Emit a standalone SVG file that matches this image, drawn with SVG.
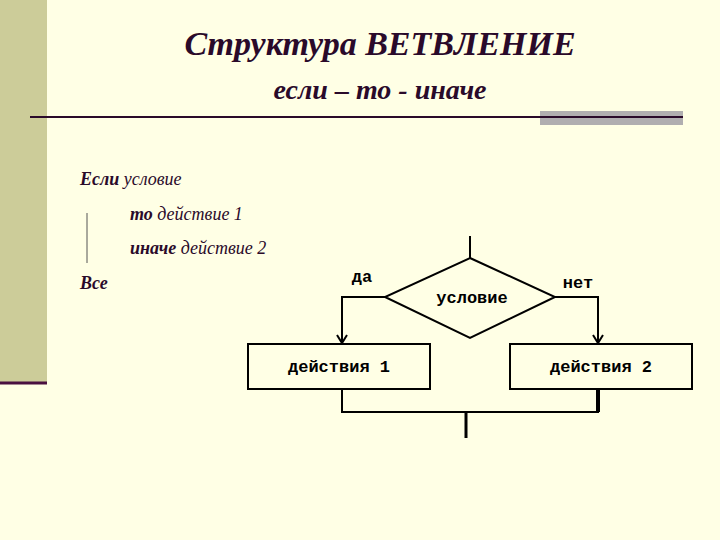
<svg xmlns="http://www.w3.org/2000/svg" width="720" height="540" viewBox="0 0 720 540">
<style>
.t{font-family:"Liberation Serif",serif;font-style:italic;fill:#2a0a2a}
.m{font-family:"Liberation Mono",monospace;font-size:17px;fill:#000}
.ln{stroke:#000;stroke-width:2;fill:none}
</style>
<defs><marker id="v" markerWidth="12" markerHeight="12" refX="9" refY="6" orient="auto" markerUnits="userSpaceOnUse"><path d="M1,1 L9,6 L1,11" fill="none" stroke="#000" stroke-width="2"/></marker></defs>
<rect width="720" height="540" fill="#FFFFE5"/>
<rect x="0" y="0" width="47" height="382" fill="#CCCC99"/>
<line x1="0" y1="383" x2="47" y2="383" stroke="#4a1040" stroke-width="3"/>
<rect x="540" y="111" width="143" height="14" fill="#B0AEB0"/>
<line x1="30" y1="117" x2="683" y2="117" stroke="#2a0a2a" stroke-width="2"/>
<text class="t" x="380" y="55" font-size="34" font-weight="bold" text-anchor="middle">Структура ВЕТВЛЕНИЕ</text>
<text class="t" x="380" y="99" font-size="28" font-weight="bold" text-anchor="middle">если – то - иначе</text>
<text class="t" x="80" y="185" font-size="18"><tspan font-weight="bold">Если</tspan> условие</text>
<text class="t" x="130" y="220" font-size="18"><tspan font-weight="bold">то</tspan> действие 1</text>
<text class="t" x="130" y="254" font-size="18"><tspan font-weight="bold">иначе</tspan> действие 2</text>
<text class="t" x="80" y="289" font-size="18" font-weight="bold">Все</text>
<line x1="87" y1="213" x2="87" y2="263" stroke="#555" stroke-width="1"/>
<g id="connectors" class="ln">
<line x1="470" y1="236" x2="470" y2="258"/>
<path d="M385,297 H342 V343" marker-end="url(#v)"/>
<path d="M555,297 H598 V343" marker-end="url(#v)"/>
<path d="M342,390 V412 H598 V390"/>
<line x1="598" y1="390" x2="598" y2="412" stroke-width="4"/>
<line x1="466" y1="412" x2="466" y2="438" stroke-width="3"/>
</g>
<g id="cond"><polygon points="470,258 555,297 470,338 385,297" class="ln" fill="none"/><text class="m" x="472" y="303" text-anchor="middle" font-weight="bold">условие</text></g>
<g id="act1"><rect x="248" y="344" width="182" height="45" class="ln"/><text class="m" x="339" y="372" text-anchor="middle" font-weight="bold">действия 1</text></g>
<g id="act2"><rect x="510" y="344" width="182" height="45" class="ln"/><text class="m" x="601" y="372" text-anchor="middle" font-weight="bold">действия 2</text></g>
<text class="m" x="362" y="282" text-anchor="middle" font-weight="bold">да</text>
<text class="m" x="578" y="288" text-anchor="middle" font-weight="bold">нет</text>
</svg>
